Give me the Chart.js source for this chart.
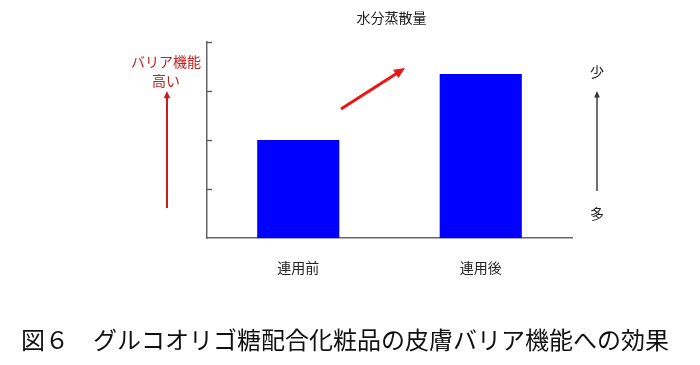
<!DOCTYPE html>
<html>
<head>
<meta charset="utf-8">
<script src="https://cdn.jsdelivr.net/npm/chart.js@4/dist/chart.umd.min.js"></script>
<style>
html,body{margin:0;padding:0;background:#fff;}
#wrap{width:700px;height:365px;position:relative;}
</style>
</head>
<body>
<div id="wrap"><canvas id="c" width="700" height="365"></canvas></div>
<script>
const categories = ["連用前", "連用後"];
const evaporation = [2.0, 3.35];
const yTicks = [0, 1, 2, 3, 4];
const chartTitle = "水分蒸散量";
const caption = "図６　グルコオリゴ糖配合化粧品の皮膚バリア機能への効果";
const leftNote = ["バリア機能", "高い"];
const rightTop = "少";
const rightBottom = "多";

const FONT = "'Noto Sans CJK JP', 'Noto Sans', sans-serif";

function arrow(ctx, x1, y1, x2, y2, color, lw, head) {
  const a = Math.atan2(y2 - y1, x2 - x1);
  ctx.save();
  ctx.strokeStyle = color; ctx.fillStyle = color; ctx.lineWidth = lw;
  ctx.beginPath();
  ctx.moveTo(x1, y1);
  ctx.lineTo(x2 - Math.cos(a) * head * 0.8, y2 - Math.sin(a) * head * 0.8);
  ctx.stroke();
  ctx.beginPath();
  ctx.moveTo(x2, y2);
  ctx.lineTo(x2 - head * Math.cos(a - 0.42), y2 - head * Math.sin(a - 0.42));
  ctx.lineTo(x2 - head * Math.cos(a + 0.42), y2 - head * Math.sin(a + 0.42));
  ctx.closePath();
  ctx.fill();
  ctx.restore();
}

const decor = {
  id: 'decor',
  afterDraw(chart) {
    const ctx = chart.ctx;
    const y = chart.scales.y;
    const area = chart.chartArea;
    // inward ticks on y axis
    ctx.save();
    ctx.strokeStyle = '#555';
    ctx.lineWidth = 1.3;
    yTicks.forEach(v => {
      if (v === 0) return;
      const py = Math.round(y.getPixelForValue(v)) + 0.5;
      ctx.beginPath();
      ctx.moveTo(area.left, py);
      ctx.lineTo(area.left + 5, py);
      ctx.stroke();
    });
    ctx.restore();

    // chart title
    ctx.save();
    ctx.fillStyle = '#222';
    ctx.font = "14px " + FONT;
    ctx.textAlign = 'center';
    ctx.textBaseline = 'middle';
    ctx.fillText(chartTitle, (area.left + area.right) / 2 + 2, 18);

    // left red note
    ctx.fillStyle = '#C41E1E';
    ctx.font = "14px " + FONT;
    ctx.fillText(leftNote[0], 166, 62);
    ctx.fillText(leftNote[1], 166, 81);

    // right labels
    ctx.fillStyle = '#222';
    ctx.fillText(rightTop, 597, 72);
    ctx.fillText(rightBottom, 597, 214);

    // caption
    ctx.fillStyle = '#111';
    ctx.font = "24px " + FONT;
    ctx.fillText(caption, 345, 340);
    ctx.restore();

    // arrows
    arrow(ctx, 167, 208, 167, 91, '#C41E1E', 2, 8);
    arrow(ctx, 341, 109, 405, 68, '#EE1414', 3, 12);
    arrow(ctx, 597, 191, 597, 91, '#333', 1.4, 7);
  }
};

new Chart(document.getElementById('c'), {
  type: 'bar',
  data: {
    labels: categories,
    datasets: [{
      data: evaporation,
      backgroundColor: '#0000FF',
      borderWidth: 0,
      barPercentage: 0.45,
      categoryPercentage: 1.0
    }]
  },
  options: {
    responsive: false,
    animation: false,
    devicePixelRatio: 1,
    layout: { padding: { left: 207, right: 128, top: 42, bottom: 68 } },
    plugins: { legend: { display: false }, tooltip: { enabled: false }, title: { display: false } },
    scales: {
      x: {
        grid: { display: false, drawTicks: false },
        border: { display: true, color: '#666', width: 1.5 },
        ticks: { color: '#222', font: { size: 14, family: FONT }, padding: 21 }
      },
      y: {
        min: 0, max: 4,
        afterBuildTicks: s => { s.ticks = yTicks.map(v => ({ value: v })); },
        grid: { display: false, drawTicks: false },
        border: { display: true, color: '#666', width: 1.5 },
        ticks: { display: false }
      }
    }
  },
  plugins: [decor]
});
</script>
</body>
</html>
